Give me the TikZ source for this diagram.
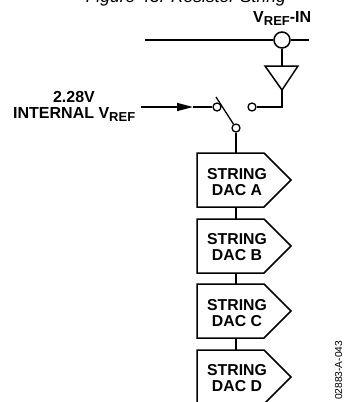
\documentclass[tikz,border=0pt]{standalone}
\usepackage{fontspec}
\setmainfont{Liberation Sans}
\usetikzlibrary{shapes.symbols,arrows.meta}
\tikzset{
  x=1pt,y=-1pt,
  wire/.style={line width=1.5pt,black},
  dac/.style={signal,signal to=east,signal from=nowhere,signal pointer angle=90,draw,line width=1.5pt,
    minimum width=94pt,minimum height=54pt,inner sep=0pt,outer sep=0pt,anchor=west},
  dactext/.style={font=\bfseries\fontsize{15.8}{16}\selectfont,align=center,inner sep=0pt},
  lab/.style={font=\bfseries\fontsize{16}{16}\selectfont,inner sep=0pt},
  term/.style={circle,draw,line width=1.3pt,fill=white,minimum size=8pt,inner sep=0pt},
  bigterm/.style={circle,draw,line width=1.5pt,fill=white,minimum size=16pt,inner sep=0pt},
}
\newcommand{\subtxt}[1]{\raisebox{-3.5pt}{\fontsize{13}{13}\selectfont #1}}
\begin{document}
\begin{tikzpicture}
\useasboundingbox (0,0) rectangle (344,402);
\clip (0,0) rectangle (344,402);
% labels
\node[font=\itshape\fontsize{17.5}{18}\selectfont,anchor=base east,inner sep=0pt] (cap) at (286,2) {Figure 43. Resistor String};
\node[lab,anchor=base west] (vrefin) at (253,22) {V\subtxt{REF}-IN};
\node[lab,anchor=base] (v228) at (74,102) {2.28V};
\node[lab,anchor=base west] (intv) at (13,118) {INTERNAL V\subtxt{REF}};
\node[font=\fontsize{10.2}{11}\selectfont,rotate=90,anchor=base west,inner sep=0pt] (code) at (342,400) {02883-A-043};
% bus and buffer
\coordinate (busL) at (145,40);
\coordinate (busR) at (309,40);
\coordinate (bufTL) at (265,66);
\coordinate (bufTR) at (298,66);
\coordinate (bufTop) at (282,66);
\coordinate (bufTip) at (282,90);
\coordinate (elbow) at (282,107);
\coordinate (inL) at (141,107);
\coordinate (inTip) at (193,107);
\coordinate (leverA) at (216,97);
\node[bigterm] (ring) at (282,40) {};
\draw[wire] (busL) -- (ring) (ring) -- (busR);
\draw[wire] (ring) -- (bufTop);
\draw[wire,line join=miter] (bufTL) -- (bufTR) -- (bufTip) -- cycle;
% switch
\node[term] (swR) at (252,107) {};
\node[term] (swL) at (217,107) {};
\node[term] (swO) at (236,128) {};
\draw[wire] (bufTip) -- (elbow) -- (swR);
\draw[wire,-{Triangle[length=16pt,width=8pt]}] (inL) -- (inTip);
\draw[wire] (inTip) -- (swL);
\draw[line width=1.3pt] (leverA) -- (swO);
% DACs
\node[dac] (dacA) at (197,180) {};
\node[dac] (dacB) at (197,246) {};
\node[dac] (dacC) at (197,311) {};
\node[dac] (dacD) at (197,377) {};
\node[dactext] (ta) at (237,182) {STRING\\DAC A};
\node[dactext] (tb) at (237,247) {STRING\\DAC B};
\node[dactext] (tc) at (237,313) {STRING\\DAC C};
\node[dactext] (td) at (237,378) {STRING\\DAC D};
\coordinate (sw) at (236,0);
\draw[wire] (swO) -- (sw |- dacA.north);
\draw[wire] (sw |- dacA.south) -- (sw |- dacB.north);
\draw[wire] (sw |- dacB.south) -- (sw |- dacC.north);
\draw[wire] (sw |- dacC.south) -- (sw |- dacD.north);
\end{tikzpicture}
\end{document}
